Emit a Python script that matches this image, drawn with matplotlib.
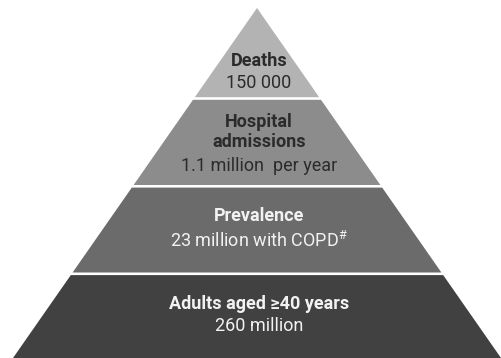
import matplotlib
matplotlib.use('Agg')
import matplotlib.pyplot as plt
from matplotlib.patches import Polygon

plt.rcParams['font.family'] = ['Roboto', 'DejaVu Sans']
plt.rcParams['mathtext.fontset'] = 'custom'
plt.rcParams['mathtext.rm'] = 'Roboto'

# Pyramid tiers, top to bottom
titles = ['Deaths', 'Hospital\nadmissions', 'Prevalence', 'Adults aged \u226540 years']
details = ['150 000', '1.1 million  per year', '23 million with COPD$^{\\mathrm{\\#}}$', '260 million']
fill_colors = ['#b3b3b3', '#8c8c8c', '#6b6b6b', '#414141']
text_colors = ['#2b2b2b', '#2b2b2b', '#f2f2f2', '#f2f2f2']

W, H = 501, 358
fig = plt.figure(figsize=(W / 100, H / 100), dpi=100)
ax = fig.add_axes([0, 0, 1, 1])
ax.set_xlim(0, W)
ax.set_ylim(H, 0)
ax.axis('off')

cx = 257.0          # centre line of the pyramid
apex_y = 8.0
base_y = 358.0
base_half = 244.0
gap = 2.6
edges = [apex_y, 98.5, 186.3, 273.8, base_y]


def half_width(y):
    return base_half * (y - apex_y) / (base_y - apex_y)


for i, (title, detail) in enumerate(zip(titles, details)):
    top = edges[i] + (gap / 2 if i > 0 else 0)
    bot = edges[i + 1] - (gap / 2 if i < len(titles) - 1 else 0)
    wt, wb = half_width(top), half_width(bot)
    pts = [(cx - wt, top), (cx + wt, top), (cx + wb, bot), (cx - wb, bot)]
    ax.add_patch(Polygon(pts, closed=True, facecolor=fill_colors[i],
                         edgecolor='none'))

# text blocks, placed by hand inside each tier
title_y = [61, 132, 216, 304]
detail_y = [83, 166, 241, 326]
for i in range(len(titles)):
    ax.text(259, title_y[i], titles[i], ha='center', va='center',
            fontsize=13, fontweight='bold', color=text_colors[i],
            linespacing=1.2)
    ax.text(259, detail_y[i], details[i], ha='center', va='center',
            fontsize=13, color=text_colors[i])

fig.savefig('out.png', dpi=100, facecolor='white')
